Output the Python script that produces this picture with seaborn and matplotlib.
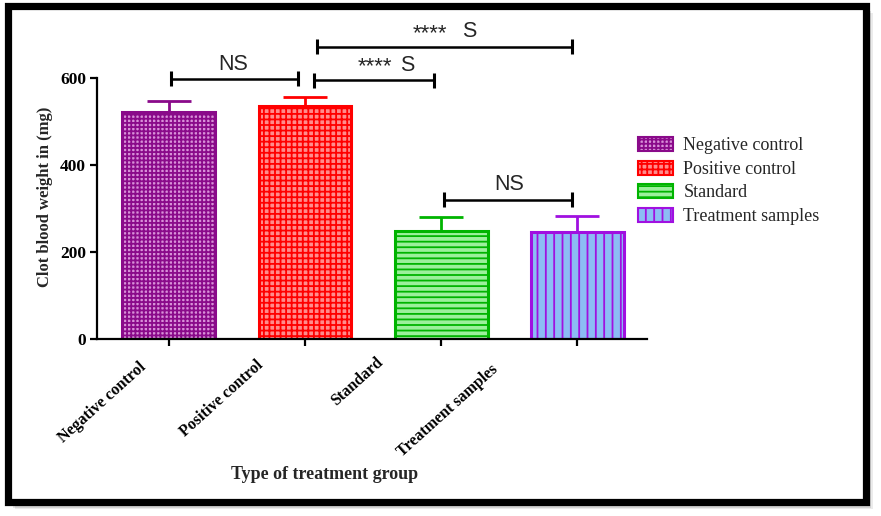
import matplotlib
matplotlib.use("Agg")
import matplotlib.pyplot as plt
import matplotlib.transforms as mtransforms
from matplotlib.patches import Patch, Rectangle
import seaborn as sns
import pandas as pd

# ---- data ----
categories = ["Negative control", "Positive control", "Standard", "Treatment samples"]
means = [522, 535, 249, 246]
sd = [25, 22, 31, 37]
y_ticks = [0, 200, 400, 600]
y_label = "Clot blood weight in (mg)"
x_label = "Type of treatment group"
# comparison brackets: (x start, x end, height, stars, stars x, S/NS label, label x)
brackets = [
    (0.02, 0.95, 598, "", None, "NS", 0.474),
    (1.07, 1.95, 595, "****", 1.516, "S", 1.751),
    (1.09, 2.96, 672, "****", 1.920, "S", 2.206),
    (2.02, 2.96, 320, "", None, "NS", 2.499),
]

# ---- styles ----
face_colors = ["#d890d8", "#ff8c8c", "#9cf09c", "#8cbcf4"]
edge_colors = ["#8a0a8a", "#ff0000", "#00b400", "#a010e0"]
hatches = ["++++", "+++", "---", "||"]
label_offsets_px = [(-23, 21), (-42, 19), (-58, 16), (-80, 23)]

sns.set_theme(style="white")
plt.rcParams["font.family"] = ["Liberation Serif", "DejaVu Serif"]
plt.rcParams["hatch.linewidth"] = 1.3

W, H = 881, 516
fig = plt.figure(figsize=(W / 100, H / 100), dpi=100)
fig.patch.set_facecolor("white")

# frame with soft shadow (outside only, right/bottom)
fx0, fy0, fw, fh = 7.5, 516 - 502, 858, 496.5
for i, a in enumerate([0.08, 0.10, 0.13, 0.18]):
    off = 7 - 1.4 * i
    fig.patches.append(Rectangle(((fx0 + off) / W, (fy0 - off) / H),
                                 fw / W, fh / H, transform=fig.transFigure,
                                 facecolor="black", edgecolor="none", alpha=a,
                                 zorder=-12 + i))
fig.patches.append(Rectangle((fx0 / W, fy0 / H), fw / W, fh / H,
                             transform=fig.transFigure, facecolor="white",
                             edgecolor="black", linewidth=5.2, zorder=-5))

ax = fig.add_axes([97 / W, (516 - 339) / H, 550 / W, 304.5 / H])
ax.set_facecolor("none")

df = pd.DataFrame({"group": categories, "weight": means})
sns.barplot(data=df, x="group", y="weight", hue="group", order=categories,
            hue_order=categories, palette=face_colors, errorbar=None,
            width=0.68, legend=False, ax=ax, saturation=1)

for i, p in enumerate(ax.patches):
    p.set_facecolor(face_colors[i])
    p.set_edgecolor(edge_colors[i])
    p.set_hatch(hatches[i])
    p.set_linewidth(2.2)

for i in range(len(categories)):
    ax.errorbar(i, means[i], yerr=[[0], [sd[i]]], fmt="none",
                ecolor=edge_colors[i], elinewidth=2.0, capsize=16,
                capthick=2.0, zorder=1)

ax.set_xlim(-0.525, 3.51)
ax.set_ylim(0, 700)
ax.set_yticks(y_ticks)
ax.set_yticklabels([str(t) for t in y_ticks], fontweight="bold", fontsize=12.5)
ax.spines["left"].set_bounds(0, 600)
for s in ["top", "right"]:
    ax.spines[s].set_visible(False)
for s in ["left", "bottom"]:
    ax.spines[s].set_linewidth(1.6)
    ax.spines[s].set_color("black")
ax.tick_params(axis="both", direction="out", length=5, width=1.6, colors="black",
               left=True, bottom=True, pad=3)

ax.set_xticks(range(len(categories)))
ax.set_xticklabels(categories, rotation=42, ha="right", va="top",
                   rotation_mode="anchor", fontweight="bold", fontsize=11.5)
for lab, (dx, dy) in zip(ax.get_xticklabels(), label_offsets_px):
    lab.set_transform(lab.get_transform() +
                      mtransforms.ScaledTranslation(dx / 100 - 0.07, -dy / 100 + 0.12,
                                                    fig.dpi_scale_trans))

ax.set_xlabel(x_label, fontweight="bold", fontsize=13)
ax.xaxis.set_label_coords(0.4145, -0.417)
ax.set_ylabel(y_label, fontweight="bold", fontsize=12)
ax.yaxis.set_label_coords(-0.08, 0.466)

# brackets
for x1, x2, yb, stars, sx, lab, lx in brackets:
    ax.plot([x1, x2], [yb, yb], color="black", lw=1.8, clip_on=False,
            solid_capstyle="butt")
    for xe in (x1, x2):
        ax.plot([xe, xe], [yb - 17, yb + 17], color="black", lw=2.2,
                clip_on=False, solid_capstyle="butt")
    ax.text(lx, yb + 10, lab, ha="center", va="bottom", fontsize=15.5,
            family=["Liberation Sans", "DejaVu Sans"], clip_on=False)
    if stars:
        ax.text(sx, yb + 6, stars, ha="center", va="bottom", fontsize=16,
                family=["Liberation Sans", "DejaVu Sans"], clip_on=False)

handles = [Patch(facecolor=face_colors[i], edgecolor=edge_colors[i],
                 hatch=hatches[i], linewidth=1.5, label=categories[i])
           for i in range(len(categories))]
fig.legend(handles=handles, loc="upper left",
           bbox_to_anchor=(631 / W, 1 - 130 / H), frameon=False,
           fontsize=13, handlelength=1.9, handleheight=0.8,
           labelspacing=0.35, handletextpad=0.6, borderaxespad=0)

fig.savefig("out.png", dpi=100)
